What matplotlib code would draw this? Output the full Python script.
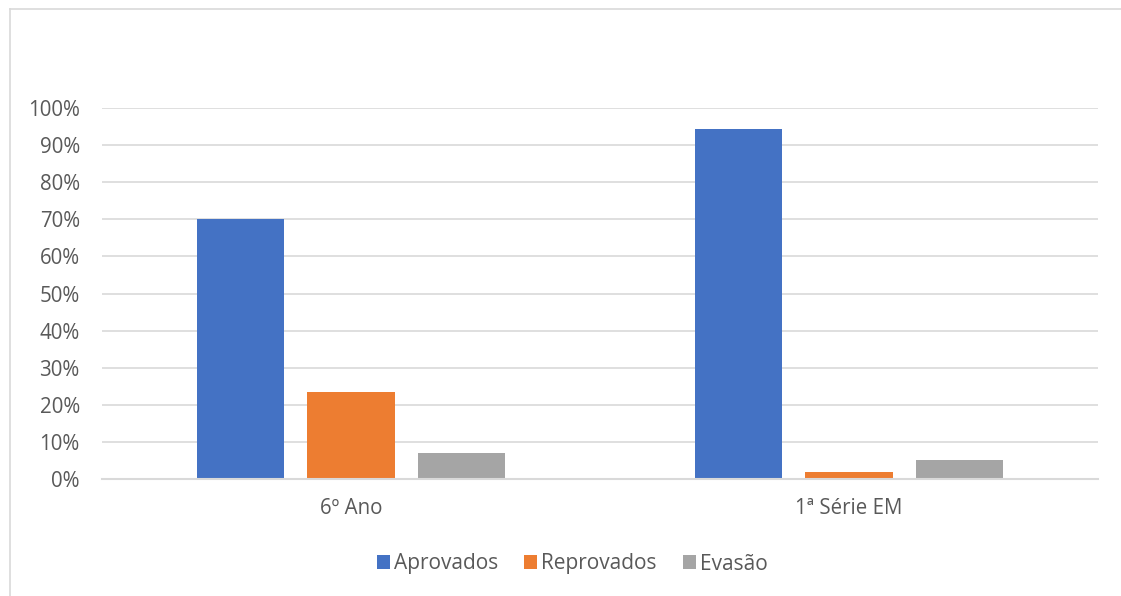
import numpy as np
import matplotlib.pyplot as plt
from matplotlib.lines import Line2D
from matplotlib.ticker import PercentFormatter

# data
categories = ["6º Ano", "1ª Série EM"]
series_names = ["Aprovados", "Reprovados", "Evasão"]
aprovados = [0.70, 0.944]
reprovados = [0.235, 0.018]
evasao = [0.069, 0.050]
colors = ["#4472C4", "#ED7D31", "#A5A5A5"]

text_color = "#595959"
grid_color = "#D9D9D9"

plt.rcParams["font.family"] = ["Open Sans", "DejaVu Sans"]

W, H = 1121, 596
fig = plt.figure(figsize=(W / 100, H / 100), dpi=100)
fig.patch.set_facecolor("white")
ax = fig.add_axes([102 / W, 1 - 479 / H, (1098 - 102) / W, (479 - 108) / H])

# chart area border: only the top and left edges fall inside the picture
bx, by = 9.5 / W, 1 - 8.5 / H
fig.add_artist(Line2D([bx, 1.0], [by, by], transform=fig.transFigure,
                      color=grid_color, linewidth=1.2))
fig.add_artist(Line2D([bx, bx], [0.0, by], transform=fig.transFigure,
                      color=grid_color, linewidth=1.2))

x = np.arange(len(categories))
width = 0.175
step = 0.222
for i, (vals, name) in enumerate(zip([aprovados, reprovados, evasao], series_names)):
    ax.bar(x + (i - 1) * step, vals, width, color=colors[i], label=name, zorder=3)

ax.set_xlim(-0.5, 1.5)
ax.set_ylim(0, 1.0)
ax.set_yticks(np.arange(0, 1.01, 0.1))
ax.yaxis.set_major_formatter(PercentFormatter(1.0, decimals=0))
ax.set_xticks(x)
ax.set_xticklabels(categories)

ax.grid(axis="y", color=grid_color, linewidth=1.2, zorder=0)
for s in ["top", "right", "left"]:
    ax.spines[s].set_visible(False)
ax.spines["bottom"].set_color(grid_color)
ax.spines["bottom"].set_linewidth(1.5)
ax.spines["bottom"].set_zorder(4)
ax.tick_params(axis="both", length=0, labelsize=14.8, colors=text_color)
ax.tick_params(axis="y", pad=16)
ax.tick_params(axis="x", pad=14)

fig.legend(loc="center", bbox_to_anchor=(572 / W, 1 - 564 / H), ncol=3,
           frameon=False, fontsize=15, labelcolor=text_color,
           handlelength=0.62, handleheight=0.62, handletextpad=0.2, columnspacing=1.25)

fig.savefig("out.png", dpi=100)
